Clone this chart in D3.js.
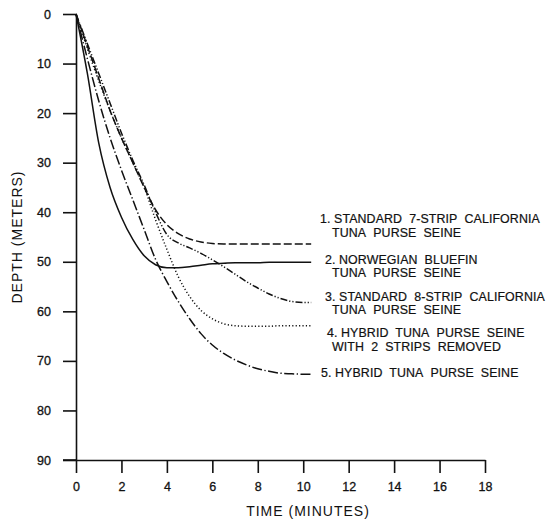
<!DOCTYPE html>
<html><head><meta charset="utf-8">
<script src="https://cdn.jsdelivr.net/npm/d3@7"></script>
<style>
html,body{margin:0;padding:0;background:#fff;}
svg{display:block;}
text{font-family:"Liberation Sans",Arial,sans-serif;fill:#111;}
</style></head>
<body>
<svg id="chart" width="549" height="519"></svg>
<script>
const times = [0,0.5,1,1.5,2,2.5,3,3.5,4,4.5,5,5.5,6,6.5,7,7.5,8,8.5,9,9.5,10,10.35];
const net1 = [0,6.5,13,19.5,25,30,35,39.5,42.5,44.3,45.4,46,46.3,46.4,46.4,46.4,46.4,46.4,46.4,46.4,46.4,46.4];
const net2 = [0,12,26,35,41,45.5,48.8,50.6,51.2,51.2,51,50.7,50.4,50.3,50.2,50.2,50.2,50.1,50.1,50.1,50.1,50.1];
const net3 = [0,6,12,18,24,29.5,34.5,40,44.5,46.2,47.2,48.3,49.6,51,52.5,54,55.3,56.5,57.4,58,58.2,58.2];
const net4 = [0,7,13.5,19.5,25,30,35,41.5,47.5,53,57,59.8,61.5,62.5,62.9,63,63,63,62.9,62.9,62.9,62.9];
const net5 = [0,9,17.5,25,31.5,37.5,43.5,49.5,54,58,61.5,64.5,66.8,68.5,69.8,70.8,71.6,72.1,72.5,72.6,72.7,72.7];
const xTicks = [0,2,4,6,8,10,12,14,16,18];
const yTicks = [0,10,20,30,40,50,60,70,80,90];
const legendLines = [
  ["1. STANDARD  7-STRIP  CALIFORNIA", "TUNA  PURSE  SEINE"],
  ["2. NORWEGIAN  BLUEFIN", "TUNA  PURSE  SEINE"],
  ["3. STANDARD  8-STRIP  CALIFORNIA", "TUNA  PURSE  SEINE"],
  ["4. HYBRID  TUNA  PURSE  SEINE", "WITH  2  STRIPS  REMOVED"],
  ["5. HYBRID  TUNA  PURSE  SEINE"]
];
const xTitle = "TIME (MINUTES)";
const yTitle = "DEPTH (METERS)";

const series = [net1, net2, net3, net4, net5];
const dashes = ["8,3", null, "7,2,1.2,2,1.2,2", "1.2,2.2", "10,2.5,1.3,2.5"];
const legendPos = [[320,223,332,237],[325,264,332,277],[325,301,332,314],[327,337,332,351],[321,377]];

const svg = d3.select("#chart");
const x = d3.scaleLinear().domain([0,18]).range([76,485]);
const y = d3.scaleLinear().domain([0,90]).range([14,460]);

const ya = svg.append("g").attr("transform",`translate(${x(0)},0)`)
  .call(d3.axisLeft(y).tickValues(yTicks).tickSize(13).tickSizeOuter(0).tickPadding(12));
const xa = svg.append("g").attr("transform",`translate(0,${y(90)})`)
  .call(d3.axisBottom(x).tickValues(xTicks).tickSize(13).tickSizeOuter(0).tickPadding(9));
[ya,xa].forEach(g=>{
  g.selectAll("path,line").attr("stroke","#111").attr("stroke-width",1.6);
  g.selectAll("text").attr("font-size",12.5).attr("fill","#111")
    .attr("font-family","'Liberation Sans',Arial,sans-serif").attr("stroke","#111").attr("stroke-width",0.3);
});
svg.append("line").attr("x1",63).attr("x2",x(0)).attr("y1",y(90)).attr("y2",y(90))
  .attr("stroke","#111").attr("stroke-width",1.6);

const line = d3.line().x((d,i)=>x(times[i])).y(d=>y(d)).curve(d3.curveMonotoneX);
series.forEach((s,i)=>{
  const p = svg.append("path").datum(s).attr("d",line)
    .attr("fill","none").attr("stroke","#111").attr("stroke-width",1.5);
  if (dashes[i]) p.attr("stroke-dasharray",dashes[i]);
});

legendLines.forEach((ls,i)=>{
  const pos = legendPos[i];
  ls.forEach((t,j)=>{
    svg.append("text").attr("x",pos[j*2]).attr("y",pos[j*2+1])
      .attr("font-size",12.4).attr("letter-spacing",0.1).attr("stroke","#111").attr("stroke-width",0.2)
      .text(t.replace(/  /g,"\u00a0 "));
  });
});

svg.append("text").attr("x",308).attr("y",516).attr("text-anchor","middle")
  .attr("font-size",14).attr("letter-spacing",1).text(xTitle);
svg.append("text").attr("transform","translate(22,237) rotate(-90)").attr("text-anchor","middle")
  .attr("font-size",14).attr("letter-spacing",1).text(yTitle);
</script>
</body></html>
